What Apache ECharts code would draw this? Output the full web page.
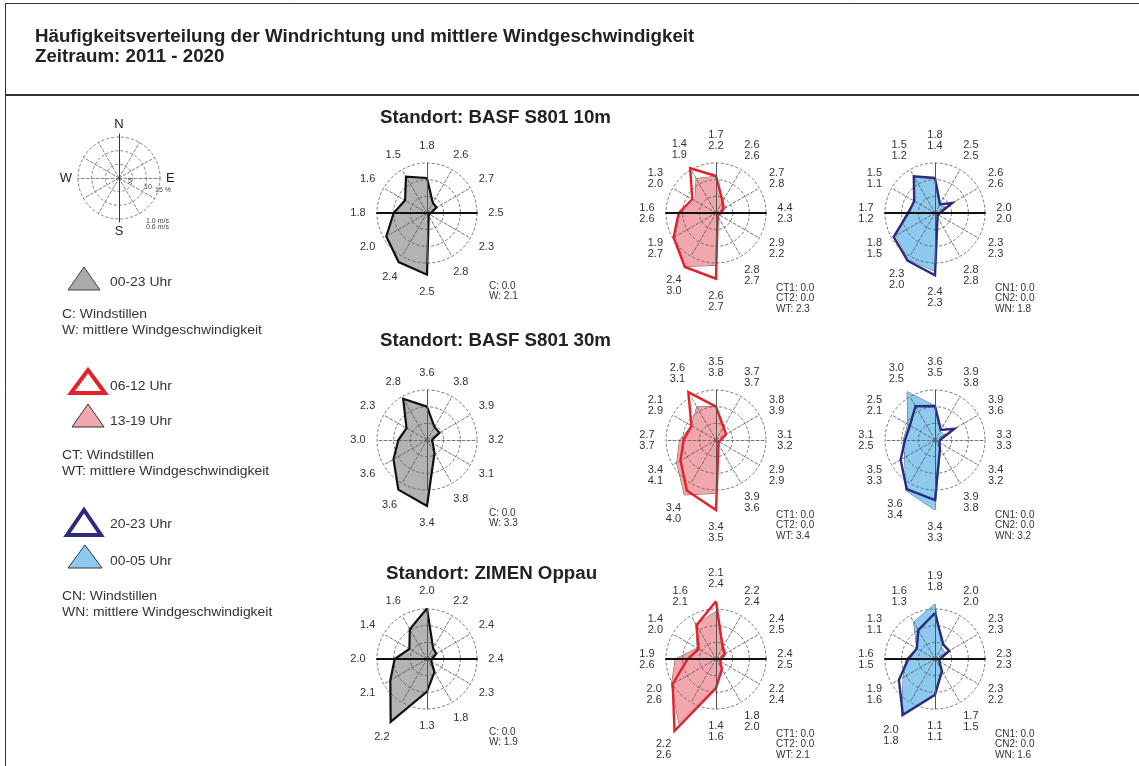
<!DOCTYPE html>
<html>
<head>
<meta charset="utf-8">
<script src="https://cdn.jsdelivr.net/npm/echarts@6/dist/echarts.min.js"></script>
<style>
html,body{margin:0;padding:0;background:#fff;}
#chart{width:1139px;height:766px;}
</style>
</head>
<body>
<div id="chart"></div>
<script>
// Wind direction sectors, clockwise from north
const directions = ['N', 'NNO', 'ONO', 'O', 'OSO', 'SSO', 'S', 'SSW', 'WSW', 'W', 'WNW', 'NNW'];
const stations = ['BASF S801 10m', 'BASF S801 30m', 'ZIMEN Oppau'];

// Frequency of each direction sector in percent
const freqAll10m   = [10.5, 3.5, 3.3, 1.2, 0.8, 1.0, 18.5, 17.0, 14.1, 10.0, 7.6, 12.6];
const freqDay10m   = [11.1, 4.0, 2.5, 1.5, 1.0, 1.0, 19.7, 18.7, 14.7, 11.2, 8.2, 15.5];
const freqEve10m   = [11.0, 3.5, 3.7, 1.5, 1.0, 1.2, 15.7, 18.5, 14.0, 10.7, 7.3, 11.9];
const freqLate10m  = [10.5, 3.0, 6.0, 1.5, 1.0, 1.5, 18.7, 16.5, 14.3, 8.0, 7.2, 12.7];
const freqNight10m = [10.3, 2.5, 3.5, 1.2, 1.0, 1.5, 17.5, 16.0, 13.5, 8.5, 7.0, 12.7];

const freqAll30m   = [10.0, 4.5, 4.3, 1.5, 2.0, 4.5, 19.8, 17.2, 11.6, 8.6, 7.1, 14.3];
const freqDay30m   = [10.0, 4.5, 3.5, 1.5, 1.0, 1.5, 21.0, 17.5, 12.3, 9.7, 8.5, 16.6];
const freqEve30m   = [10.0, 4.0, 3.5, 1.5, 1.0, 1.5, 16.0, 19.0, 13.6, 10.9, 8.5, 11.5];
const freqLate30m  = [10.2, 3.5, 6.7, 1.5, 1.5, 3.0, 18.0, 17.0, 11.9, 9.0, 8.7, 11.7];
const freqNight30m = [10.2, 3.0, 3.0, 1.5, 1.5, 3.0, 21.0, 17.5, 10.5, 9.5, 9.4, 16.7];

const freqAllZim   = [15.2, 3.7, 3.2, 1.5, 1.5, 4.5, 9.8, 21.8, 12.7, 9.7, 6.1, 10.3];
const freqDayZim   = [17.3, 4.0, 3.0, 1.5, 1.5, 3.5, 8.7, 24.9, 15.0, 8.5, 6.0, 11.7];
const freqEveZim   = [14.3, 4.5, 3.5, 2.0, 1.5, 4.0, 8.2, 22.3, 15.4, 12.2, 6.5, 12.0];
const freqLateZim  = [13.8, 5.0, 4.9, 1.5, 1.5, 4.2, 10.7, 19.3, 12.5, 8.0, 6.3, 10.0];
const freqNightZim = [16.5, 4.0, 3.5, 1.5, 1.5, 3.5, 11.0, 19.9, 11.0, 8.7, 6.3, 12.8];

// Mean wind speed of each sector in m/s
const speedAll10m   = [1.8, 2.6, 2.7, 2.5, 2.3, 2.8, 2.5, 2.4, 2.0, 1.8, 1.6, 1.5];
const speedDay10m   = [1.7, 2.6, 2.7, 4.4, 2.9, 2.8, 2.6, 2.4, 1.9, 1.6, 1.3, 1.4];
const speedEve10m   = [2.2, 2.6, 2.8, 2.3, 2.2, 2.7, 2.7, 3.0, 2.7, 2.6, 2.0, 1.9];
const speedLate10m  = [1.8, 2.5, 2.6, 2.0, 2.3, 2.8, 2.4, 2.3, 1.8, 1.7, 1.5, 1.5];
const speedNight10m = [1.4, 2.5, 2.6, 2.0, 2.3, 2.8, 2.3, 2.0, 1.5, 1.2, 1.1, 1.2];

const speedAll30m   = [3.6, 3.8, 3.9, 3.2, 3.1, 3.8, 3.4, 3.6, 3.6, 3.0, 2.3, 2.8];
const speedDay30m   = [3.5, 3.7, 3.8, 3.1, 2.9, 3.9, 3.4, 3.4, 3.4, 2.7, 2.1, 2.6];
const speedEve30m   = [3.8, 3.7, 3.9, 3.2, 2.9, 3.6, 3.5, 4.0, 4.1, 3.7, 2.9, 3.1];
const speedLate30m  = [3.6, 3.9, 3.9, 3.3, 3.4, 3.9, 3.4, 3.6, 3.5, 3.1, 2.5, 3.0];
const speedNight30m = [3.5, 3.8, 3.6, 3.3, 3.2, 3.8, 3.3, 3.4, 3.3, 2.5, 2.1, 2.5];

const speedAllZim   = [2.0, 2.2, 2.4, 2.4, 2.3, 1.8, 1.3, 2.2, 2.1, 2.0, 1.4, 1.6];
const speedDayZim   = [2.1, 2.2, 2.4, 2.4, 2.2, 1.8, 1.4, 2.2, 2.0, 1.9, 1.4, 1.6];
const speedEveZim   = [2.4, 2.4, 2.5, 2.5, 2.4, 2.0, 1.6, 2.6, 2.6, 2.6, 2.0, 2.1];
const speedLateZim  = [1.9, 2.0, 2.3, 2.3, 2.3, 1.7, 1.1, 2.0, 1.9, 1.6, 1.3, 1.6];
const speedNightZim = [1.8, 2.0, 2.3, 2.3, 2.2, 1.5, 1.1, 1.8, 1.6, 1.5, 1.1, 1.3];

// Calms (%) and overall mean wind speed (m/s) per station
const calmAll   = [0.0, 0.0, 0.0];
const meanAll   = [2.1, 3.3, 1.9];
const calmDay   = [0.0, 0.0, 0.0];
const calmEve   = [0.0, 0.0, 0.0];
const meanDay   = [2.3, 3.4, 2.1];
const calmLate  = [0.0, 0.0, 0.0];
const calmNight = [0.0, 0.0, 0.0];
const meanNight = [1.8, 3.2, 1.6];

// Frequency rings in percent
const ringStep = 5;
const ringMax = 15;

const FONT = '"Liberation Sans", Arial, Helvetica, sans-serif';
const COL_X = [427, 716, 935];
const ROW_Y = [213, 440, 659];
const R = 50;
const WIDEN = 1.07;
const LABEL_SIZE = 11;

const GRAY = '#b3b3b3', RED = '#e5202b', PINK = '#f2a7ac', NAVY = '#2c2a7e', BLUE = '#8ccbef';

// ECharts radar runs counter-clockwise: reorder compass-ordered arrays
function ccw(arr) { return [arr[0]].concat(arr.slice(1).reverse()); }
const fmt = v => v.toFixed(1);

const rows = [
  { all: freqAll10m, day: freqDay10m, eve: freqEve10m, late: freqLate10m, night: freqNight10m,
    sAll: speedAll10m, sDay: speedDay10m, sEve: speedEve10m, sLate: speedLate10m, sNight: speedNight10m },
  { all: freqAll30m, day: freqDay30m, eve: freqEve30m, late: freqLate30m, night: freqNight30m,
    sAll: speedAll30m, sDay: speedDay30m, sEve: speedEve30m, sLate: speedLate30m, sNight: speedNight30m },
  { all: freqAllZim, day: freqDayZim, eve: freqEveZim, late: freqLateZim, night: freqNightZim,
    sAll: speedAllZim, sDay: speedDayZim, sEve: speedEveZim, sLate: speedLateZim, sNight: speedNightZim }
];

const radars = [];
const series = [];
const graphics = [];

function gridRadar(cx, cy) {
  radars.push({
    center: [cx, cy], radius: R, startAngle: 90, shape: 'circle',
    splitNumber: ringMax / ringStep, z: 2,
    indicator: directions.map(n => ({ name: n, min: 0, max: ringMax })),
    axisName: { show: false },
    splitLine: { lineStyle: { color: '#555', width: 0.8, type: [3, 2] } },
    splitArea: { show: false },
    axisLine: { lineStyle: { color: '#555', width: 0.8, type: [3, 2] } }
  });
  return radars.length - 1;
}
function crossRadar(cx, cy, startAngle, color, width) {
  radars.push({
    center: [cx, cy], radius: R, startAngle: startAngle, shape: 'circle', z: 4,
    indicator: [{ name: '', min: 0, max: 1 }, { name: '', min: 0, max: 1 }],
    axisName: { show: false },
    splitLine: { show: false }, splitArea: { show: false },
    axisLine: { lineStyle: { color: color, width: width, type: 'solid' } }
  });
}
function fillSeries(ri, values, color, lineColor, lineWidth) {
  series.push({
    type: 'radar', radarIndex: ri, z: 1, symbol: 'none', silent: true,
    data: [{ value: ccw(values) }],
    lineStyle: { color: lineColor, width: lineWidth },
    areaStyle: { color: color, opacity: 1 }
  });
}
function lineSeries(ri, values, color, width) {
  series.push({
    type: 'radar', radarIndex: ri, z: 3, symbol: 'none', silent: true,
    data: [{ value: ccw(values) }],
    lineStyle: { color: color, width: width, join: 'miter' }
  });
}
// Sector speed labels: centred on each direction, just outside the ring
// or outside the rose where the rose reaches beyond the ring
function labelSeries(ri, texts, polys) {
  const nLines = texts[0].split('\n').length;
  const halfW = 8, halfH = (nLines * LABEL_SIZE + 1) / 2, gap = 11;
  const radii = texts.map((t, j) => {
    const reach = Math.max(ringMax, Math.max.apply(null, polys.map(p => p[j]))) * R / ringMax;
    const a = j * Math.PI / 6;
    const half = Math.sqrt(Math.pow(halfW * Math.sin(a), 2) + Math.pow(halfH * Math.cos(a), 2));
    return (reach + gap + half) * ringMax / R;
  });
  const ordered = ccw(texts);
  series.push({
    type: 'radar', radarIndex: ri, z: 5, silent: true,
    symbol: 'circle', symbolSize: 1,
    itemStyle: { color: 'rgba(0,0,0,0)' },
    lineStyle: { width: 0, opacity: 0 },
    data: [{ value: ccw(radii) }],
    label: {
      show: true, position: 'inside', color: '#333', fontSize: LABEL_SIZE, lineHeight: LABEL_SIZE,
      fontFamily: FONT, align: 'center', verticalAlign: 'middle',
      formatter: p => ordered[p.dimensionIndex]
    }
  });
}
function textLines(x, y, lines) {
  lines.forEach((t, i) => graphics.push({
    type: 'text', x: x, y: y + i * 10.5, z: 10,
    style: { text: t, fill: '#333', font: '10px ' + FONT, textVerticalAlign: 'middle' }
  }));
}

rows.forEach((d, r) => {
  const cy = ROW_Y[r];
  // 00-23 Uhr
  let cx = COL_X[0];
  let ri = gridRadar(cx, cy);
  fillSeries(ri, d.all, GRAY, GRAY, 0);
  lineSeries(ri, d.all, '#111', 2.2);
  labelSeries(ri, d.sAll.map(fmt), [d.all]);
  crossRadar(cx, cy, 90, '#555', 1);
  if (r !== 1) crossRadar(cx, cy, 0, '#111', 1.8);
  textLines(cx + 62, cy + 73, ['C: ' + fmt(calmAll[r]), 'W: ' + fmt(meanAll[r])]);

  // 06-12 / 13-19 Uhr
  cx = COL_X[1];
  ri = gridRadar(cx, cy);
  fillSeries(ri, d.eve, PINK, '#3a3030', 0.8);
  lineSeries(ri, d.day, RED, 2.4);
  labelSeries(ri, d.sDay.map((v, i) => fmt(v) + '\n' + fmt(d.sEve[i])), [d.day, d.eve]);
  crossRadar(cx, cy, 90, '#555', 1);
  if (r !== 1) crossRadar(cx, cy, 0, '#111', 1.8);
  textLines(cx + 60, cy + 75, ['CT1: ' + fmt(calmDay[r]), 'CT2: ' + fmt(calmEve[r]), 'WT: ' + fmt(meanDay[r])]);

  // 20-23 / 00-05 Uhr
  cx = COL_X[2];
  ri = gridRadar(cx, cy);
  fillSeries(ri, d.night, BLUE, '#2a3550', 0.8);
  lineSeries(ri, d.late, NAVY, 2.4);
  labelSeries(ri, d.sLate.map((v, i) => fmt(v) + '\n' + fmt(d.sNight[i])), [d.late, d.night]);
  crossRadar(cx, cy, 90, '#555', 1);
  if (r !== 1) crossRadar(cx, cy, 0, '#111', 1.8);
  textLines(cx + 60, cy + 75, ['CN1: ' + fmt(calmLate[r]), 'CN2: ' + fmt(calmNight[r]), 'WN: ' + fmt(meanNight[r])]);
});

// Row headings
const headY = [118, 341, 574];
const headX = [380, 380, 386];
stations.forEach((s, i) => graphics.push({
  type: 'text', x: headX[i], y: headY[i], z: 10, scaleX: WIDEN,
  style: { text: 'Standort: ' + s, fill: '#222', font: 'bold 17.5px ' + FONT, textVerticalAlign: 'middle' }
}));

// Key rose (empty grid with compass letters)
const keyC = [119, 178], keyR = 41;
radars.push({
  center: keyC, radius: keyR, startAngle: 90, shape: 'circle', splitNumber: 3, z: 2,
  indicator: directions.map(n => ({ name: n, min: 0, max: ringMax })),
  axisName: { show: false },
  splitLine: { lineStyle: { color: '#666', width: 0.8, type: [3, 2] } },
  splitArea: { show: false },
  axisLine: { lineStyle: { color: '#666', width: 0.8, type: [3, 2] } }
});
radars.push({
  center: keyC, radius: keyR + 3, startAngle: 90, shape: 'circle', z: 4,
  indicator: [{ name: 'N', max: 1 }, { name: 'S', max: 1 }],
  nameGap: 3,
  axisName: { color: '#222', fontSize: 13, fontFamily: FONT },
  splitLine: { show: false }, splitArea: { show: false },
  axisLine: { lineStyle: { color: '#333', width: 1, type: 'solid' } }
});
radars.push({
  center: keyC, radius: keyR, startAngle: 0, shape: 'circle', z: 4,
  indicator: [{ name: 'E', max: 1 }, { name: 'W', max: 1 }],
  nameGap: 6,
  axisName: { color: '#222', fontSize: 13, fontFamily: FONT },
  splitLine: { show: false }, splitArea: { show: false },
  axisLine: { show: false }
});

const small = (t, x, y) => graphics.push({
  type: 'text', x: x, y: y, z: 10,
  style: { text: t, fill: '#444', font: '7px ' + FONT, textVerticalAlign: 'middle' }
});
small('5', 128, 181);
small('10', 144, 187);
small('15 %', 155, 190);
small('1.0 m/s', 146, 221);
small('0.6 m/s', 146, 227);

// Key entries
const keyText = (t, x, y) => graphics.push({
  type: 'text', x: x, y: y, z: 10, scaleX: WIDEN,
  style: { text: t, fill: '#333', font: '13px ' + FONT, textVerticalAlign: 'middle' }
});
const tri = (pts, fill, stroke, lw) => graphics.push({
  type: 'polygon', z: 10, shape: { points: pts },
  style: { fill: fill, stroke: stroke, lineWidth: lw, lineJoin: 'miter' }
});
tri([[68, 290], [84, 267], [100, 290]], '#aaaaaa', '#444', 1);
keyText('00-23 Uhr', 110, 282);
keyText('C: Windstillen', 62, 314);
keyText('W: mittlere Windgeschwindigkeit', 62, 330);

tri([[71, 393], [88, 370], [105, 393]], '#fff', RED, 4);
tri([[72, 427], [88, 404], [104, 427]], PINK, '#333', 1);
keyText('06-12 Uhr', 110, 386);
keyText('13-19 Uhr', 110, 421);
keyText('CT: Windstillen', 62, 455);
keyText('WT: mittlere Windgeschwindigkeit', 62, 471);

tri([[67, 535], [84, 510], [101, 535]], '#fff', NAVY, 4);
tri([[68, 568], [85, 545], [102, 568]], BLUE, '#333', 1);
keyText('20-23 Uhr', 110, 524);
keyText('00-05 Uhr', 110, 561);
keyText('CN: Windstillen', 62, 596);
keyText('WN: mittlere Windgeschwindigkeit', 62, 612);

// Header box and frame
graphics.push(
  { type: 'line', z: 10, shape: { x1: 5, y1: 3.5, x2: 1139, y2: 3.5 }, style: { stroke: '#333', lineWidth: 1 } },
  { type: 'line', z: 10, shape: { x1: 5.5, y1: 3, x2: 5.5, y2: 766 }, style: { stroke: '#333', lineWidth: 1 } },
  { type: 'line', z: 10, shape: { x1: 5, y1: 95, x2: 1139, y2: 95 }, style: { stroke: '#333', lineWidth: 2 } },
  { type: 'text', x: 35, y: 37, z: 10, scaleX: WIDEN,
    style: { text: 'Häufigkeitsverteilung der Windrichtung und mittlere Windgeschwindigkeit', fill: '#222', font: 'bold 17.5px ' + FONT, textVerticalAlign: 'middle' } },
  { type: 'text', x: 35, y: 57, z: 10, scaleX: WIDEN,
    style: { text: 'Zeitraum: 2011 - 2020', fill: '#222', font: 'bold 17.5px ' + FONT, textVerticalAlign: 'middle' } }
);

const chart = echarts.init(document.getElementById('chart'), null, { renderer: 'canvas' });
chart.setOption({
  backgroundColor: '#fff',
  animation: false,
  radar: radars,
  series: series,
  graphic: graphics
});
</script>
</body>
</html>
